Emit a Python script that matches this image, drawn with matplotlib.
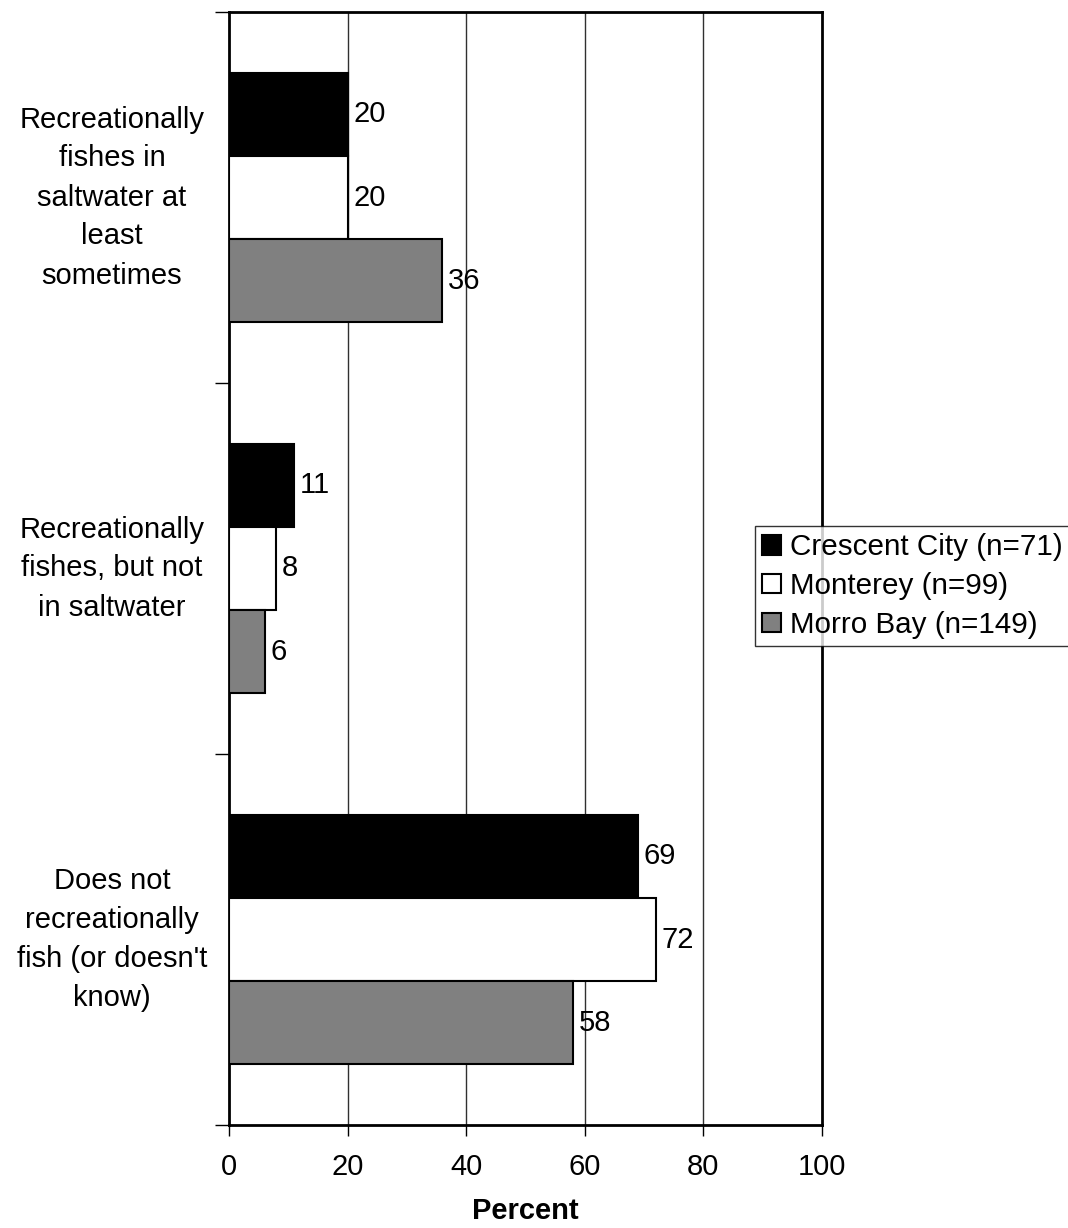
import matplotlib
matplotlib.use("Agg")
import matplotlib.pyplot as plt
import matplotlib.transforms as mtransforms
import numpy as np

plt.rcParams['font.family'] = ['Liberation Sans', 'DejaVu Sans']

categories = ["Recreationally\nfishes in\nsaltwater at\nleast\nsometimes",
              "Recreationally\nfishes, but not\nin saltwater",
              "Does not\nrecreationally\nfish (or doesn't\nknow)"]
series_names = ["Crescent City (n=71)", "Monterey (n=99)", "Morro Bay (n=149)"]
crescent = [20, 11, 69]
monterey = [20, 8, 72]
morro = [36, 6, 58]
x_ticks = [0, 20, 40, 60, 80, 100]

values = [crescent, monterey, morro]
colors = ["black", "white", "#808080"]
FS = 21

fig = plt.figure(figsize=(10.68, 12.28), dpi=100)
ax = fig.add_axes([229/1068, 1-1125/1228, (822-229)/1068, (1125-12)/1228])

bar_h = 0.224
offsets = [-bar_h, 0, bar_h]
centers = np.arange(len(categories)) + 0.5
for vals, col, off, name in zip(values, colors, offsets, series_names):
    bars = ax.barh(centers + off, vals, height=bar_h, color=col,
                   edgecolor='black', linewidth=1.5, label=name, zorder=3)
    for b, v in zip(bars, vals):
        ax.annotate(f"{v}", (b.get_width(), b.get_y() + b.get_height()/2),
                    xytext=(4, 0), textcoords='offset points',
                    ha='left', va='center', fontsize=FS, zorder=4)

ax.set_xlim(0, 100)
ax.set_ylim(3, 0)
ax.set_xticks(x_ticks)
ax.set_xticklabels([str(t) for t in x_ticks], fontsize=FS)
ax.set_yticks([0, 1, 2, 3])
ax.set_yticklabels([])
ax.tick_params(axis='y', direction='out', length=10, width=1)
ax.tick_params(axis='x', direction='out', length=8, width=1, pad=12)
for x in x_ticks[1:-1]:
    ax.axvline(x, color='#303030', linewidth=1, zorder=1)
for s in ax.spines.values():
    s.set_linewidth(2)
    s.set_color('black')

trans = mtransforms.blended_transform_factory(fig.transFigure, ax.transData)
for c, lab in zip(centers, categories):
    ax.text(112/1068, c, lab, transform=trans,
            ha='center', va='center', fontsize=FS, multialignment='center', linespacing=1.5)

ax.set_xlabel("Percent", fontsize=FS, fontweight='bold', labelpad=12)

leg = fig.legend(loc='center left', bbox_to_anchor=(755/1068, 1-586/1228),
                 fontsize=21.3, frameon=True, fancybox=False, edgecolor='black',
                 handlelength=0.62, handleheight=0.62, handletextpad=0.33,
                 borderpad=0.25, labelspacing=0.36, borderaxespad=0)
leg.get_frame().set_linewidth(1)

fig.savefig("out.png", dpi=100)
